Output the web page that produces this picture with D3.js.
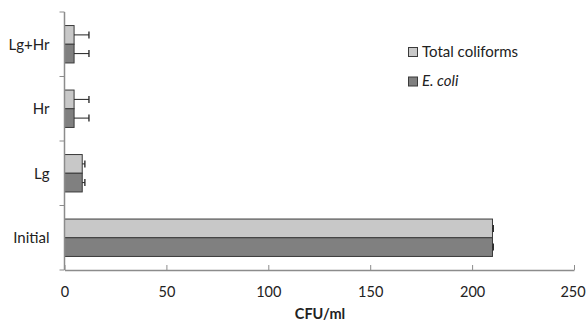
<!DOCTYPE html>
<html>
<head>
<meta charset="utf-8">
<script src="https://cdn.jsdelivr.net/npm/d3@7"></script>
<style>
body { margin: 0; background: #fff; }
text { font-family: Lato, "Open Sans", sans-serif; fill: #222; }
</style>
</head>
<body>
<div id="chart"></div>
<script>
var categories = ['Lg+Hr', 'Hr', 'Lg', 'Initial'];
var seriesNames = ['Total coliforms', 'E. coli'];
var totalColiforms = [4.7, 4.7, 8.7, 210];
var totalErr = [7.3, 7.3, 1.3, 0.4];
var eColi = [4.7, 4.7, 8.7, 210];
var eColiErr = [7.3, 7.3, 1.3, 0.4];
var xTicks = [0, 50, 100, 150, 200, 250];

var colors = ['#c8c8c8', '#808080'];

var margin = { top: 12, right: 12, bottom: 52, left: 64.5 },
    width = 586 - margin.left - margin.right,
    height = 322 - margin.top - margin.bottom;

var svg = d3.select('#chart')
    .append('svg')
    .attr('width', 586)
    .attr('height', 322)
    .append('g')
    .attr('transform', 'translate(' + margin.left + ',' + margin.top + ')');

var x = d3.scaleLinear().domain([0, 250]).range([0, 509.5]);
var y = d3.scaleBand().domain(categories).range([0, height]).paddingInner(0.42).paddingOuter(0.21);
var ySub = d3.scaleBand().domain([0, 1]).range([0, y.bandwidth()]);

var series = [
    { values: totalColiforms, errs: totalErr },
    { values: eColi, errs: eColiErr }
];

// bars
series.forEach(function(s, i) {
    var g = svg.append('g');
    g.selectAll('rect')
        .data(categories)
        .enter()
        .append('rect')
        .attr('x', 0)
        .attr('y', function(d) { return y(d) + ySub(i); })
        .attr('width', function(d, j) { return x(s.values[j]); })
        .attr('height', ySub.bandwidth())
        .attr('fill', colors[i])
        .attr('stroke', '#3a3a3a')
        .attr('stroke-width', 1);

    // error bars
    categories.forEach(function(c, j) {
        var cy = y(c) + ySub(i) + ySub.bandwidth() / 2;
        var x0 = x(s.values[j]), x1 = x(s.values[j] + s.errs[j]);
        g.append('line')
            .attr('x1', x0).attr('x2', x1)
            .attr('y1', cy).attr('y2', cy)
            .attr('stroke', '#222').attr('stroke-width', 1);
        g.append('line')
            .attr('x1', x1).attr('x2', x1)
            .attr('y1', cy - 3.5).attr('y2', cy + 3.5)
            .attr('stroke', '#222').attr('stroke-width', 1.3);
    });
});

// x axis
var xAxis = svg.append('g')
    .attr('transform', 'translate(0,' + height + ')')
    .call(d3.axisBottom(x).tickValues(xTicks).tickSize(5).tickSizeOuter(0));
xAxis.select('.domain').attr('stroke', '#8c8c8c').attr('stroke-width', 1.5);
xAxis.selectAll('.tick line').attr('stroke', '#8c8c8c').attr('transform', 'translate(0,-5)');
xAxis.selectAll('.tick text')
    .attr('y', 27).attr('dy', 0)
    .attr('x', function(d) { return d === 250 ? -1.5 : 0; })
    .style('font-size', '14.5px').style('fill', '#222');

// y axis
var yAxis = svg.append('g');
yAxis.append('line')
    .attr('x1', 0).attr('x2', 0).attr('y1', 0).attr('y2', height)
    .attr('stroke', '#8c8c8c').attr('stroke-width', 1.5);
var step = height / categories.length;
yAxis.selectAll('.ytick')
    .data(d3.range(categories.length + 1))
    .enter()
    .append('line')
    .attr('x1', -5).attr('x2', 0)
    .attr('y1', function(d) { return d * step; })
    .attr('y2', function(d) { return d * step; })
    .attr('stroke', '#8c8c8c');
yAxis.selectAll('.ylabel')
    .data(categories)
    .enter()
    .append('text')
    .attr('x', -15)
    .attr('y', function(d) { return y(d) + y.bandwidth() / 2; })
    .attr('dy', '0.36em')
    .attr('text-anchor', 'end')
    .style('font-size', '15px')
    .text(function(d) { return d; });

// x axis title
svg.append('text')
    .attr('x', 320 - margin.left)
    .attr('y', 319 - margin.top)
    .attr('text-anchor', 'middle')
    .style('font-size', '14.5px')
    .style('font-weight', 'bold')
    .text('CFU/ml');

// legend
var legend = svg.append('g').attr('transform', 'translate(' + (408 - margin.left) + ',' + (47 - margin.top) + ')');
seriesNames.forEach(function(name, i) {
    legend.append('rect')
        .attr('x', 0.5).attr('y', i * 29.5 + 0.5)
        .attr('width', 9).attr('height', 9)
        .attr('fill', colors[i])
        .attr('stroke', '#3a3a3a');
    legend.append('text')
        .attr('x', 14)
        .attr('y', i * 28.5 + 10)
        .style('font-size', '15px')
        .style('font-style', i === 1 ? 'italic' : 'normal')
        .text(name);
});
</script>
</body>
</html>
